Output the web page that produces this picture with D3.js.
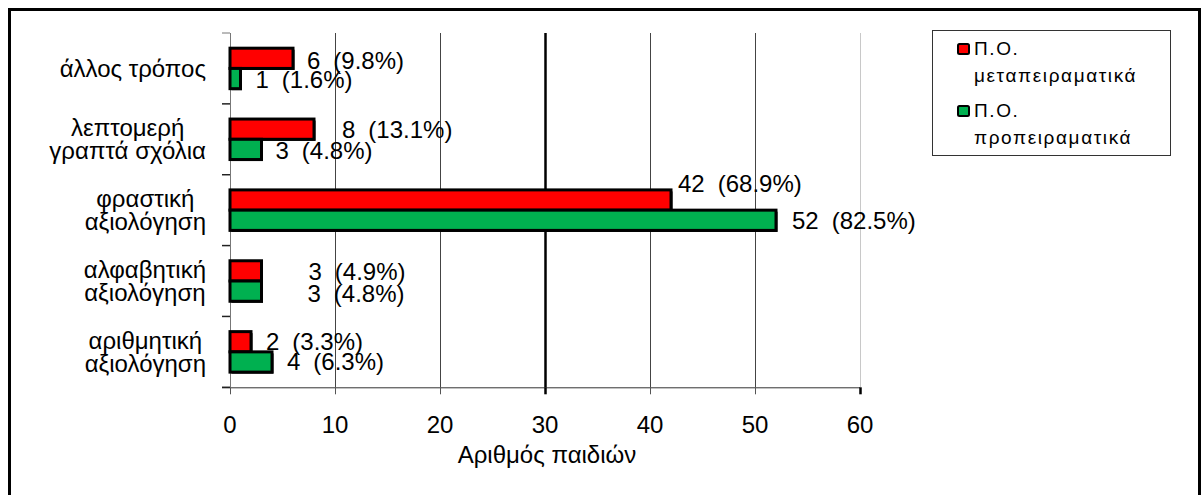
<!DOCTYPE html>
<html>
<head>
<meta charset="utf-8">
<script src="https://cdn.jsdelivr.net/npm/d3@7/dist/d3.min.js"></script>
<style>
  html, body { margin: 0; padding: 0; background: #fff; }
  svg { display: block; font-family: "Liberation Sans", Arial, sans-serif; }
</style>
</head>
<body>
<svg id="chart" width="1204" height="495"></svg>
<script>
// Evaluation methods (top to bottom), line breaks as drawn on the axis
const categories = [
  "άλλος τρόπος",
  "λεπτομερή\nγραπτά σχόλια",
  "φραστική\nαξιολόγηση",
  "αλφαβητική\nαξιολόγηση",
  "αριθμητική\nαξιολόγηση"
];
const seriesNames = ["Π.Ο.\nμεταπειραματικά", "Π.Ο.\nπροπειραματικά"];
const postValues = [6, 8, 42, 3, 2];
const preValues = [1, 3, 52, 3, 4];
const postPercents = ["9.8", "13.1", "68.9", "4.9", "3.3"];
const prePercents = ["1.6", "4.8", "82.5", "4.8", "6.3"];
const xTicks = [0, 10, 20, 30, 40, 50, 60];
const xTitle = "Αριθμός παιδιών";

const seriesColors = ["#ff0000", "#00b050"];
// per-label nudges [dx from bar end, dy from bar centre]
const labelNudges = [
  [[14, 2], [15, 1]],
  [[28, 0], [14, 1]],
  [[7, -16], [16, 0]],
  [[47, 1], [46, 2]],
  [[15, 0], [15, 0]]
];

const svg = d3.select("#chart");
const plot = { left: 230, right: 860, top: 33, bottom: 387.3 };
const fontSize = 24;

// outer frame (open at the bottom)
svg.append("path")
  .attr("d", `M9.5,495 V9.5 H1199.5 V495`)
  .attr("fill", "none").attr("stroke", "#000").attr("stroke-width", 3);

const x = d3.scaleLinear().domain([0, 60]).range([plot.left, plot.right]);
const y = d3.scaleBand().domain(d3.range(categories.length)).range([plot.top, plot.bottom]);
const inner = d3.scaleBand().domain([0, 1]).range([0, y.bandwidth()]).paddingOuter(0.75);

// vertical gridlines
svg.append("g").selectAll("line").data(xTicks.filter(d => d > 0)).join("line")
  .attr("x1", d => Math.round(x(d)) + 0.5).attr("x2", d => Math.round(x(d)) + 0.5)
  .attr("y1", plot.top).attr("y2", plot.bottom)
  .attr("stroke", d => d === 30 ? "#000" : d === 60 ? "#c8c8c8" : "#444")
  .attr("stroke-width", d => d === 30 ? 2.5 : 1);

// value axis
const xAxis = svg.append("g").attr("transform", `translate(0,${plot.bottom})`);
xAxis.append("line").attr("x1", plot.left - 8).attr("x2", plot.right)
  .attr("y1", 0.5).attr("y2", 0.5).attr("stroke", "#333");
xAxis.selectAll("line.tick").data(xTicks).join("line").attr("class", "tick")
  .attr("x1", d => Math.round(x(d)) + 0.5).attr("x2", d => Math.round(x(d)) + 0.5)
  .attr("y1", 0).attr("y2", 7)
  .attr("stroke", d => (d === 30 || d === 60) ? "#000" : "#555")
  .attr("stroke-width", d => (d === 30 || d === 60) ? 2.5 : 1);
xAxis.selectAll("text").data(xTicks).join("text")
  .attr("x", d => x(d)).attr("y", 46)
  .attr("text-anchor", "middle").attr("font-size", fontSize).attr("fill", "#000")
  .text(d => d);
svg.append("text")
  .attr("x", (plot.left + plot.right) / 2 + 2).attr("y", 463)
  .attr("text-anchor", "middle").attr("font-size", fontSize).attr("fill", "#000")
  .text(xTitle);

// category axis
svg.append("line").attr("x1", plot.left + 0.5).attr("x2", plot.left + 0.5)
  .attr("y1", plot.top).attr("y2", plot.bottom).attr("stroke", "#777");
const boundaries = d3.range(categories.length + 1).map(i => plot.top + i * y.step());
svg.append("g").selectAll("line").data(boundaries).join("line")
  .attr("x1", plot.left - 8).attr("x2", plot.left)
  .attr("y1", d => d).attr("y2", d => d)
  .attr("stroke", (d, i) => i === 0 ? "#777" : "#222")
  .attr("stroke-width", (d, i) => i === 0 ? 1 : 1.5);

const lineGap = 23.5;
categories.forEach((label, i) => {
  const lines = label.split("\n");
  const cy = y(i) + y.bandwidth() / 2;
  const t = svg.append("text").attr("font-size", fontSize).attr("fill", "#000")
    .attr("text-anchor", "middle");
  lines.forEach((ln, j) => {
    t.append("tspan").attr("y", cy + (j - (lines.length - 1) / 2) * lineGap).attr("dy", "0.35em").text(ln);
  });
  const tspans = t.selectAll("tspan").nodes();
  const w = d3.max(tspans, n => n.getComputedTextLength());
  t.selectAll("tspan").attr("x", 206 - w / 2);
});

// bars: a thin black drop shadow under each outlined bar
const seriesValues = [postValues, preValues];
const seriesPercents = [postPercents, prePercents];
const barLayer = svg.append("g");
seriesValues.forEach((vals, s) => {
  vals.forEach((v, i) => {
    barLayer.append("rect")
      .attr("x", x(0) + 1.5).attr("y", y(i) + inner(s) + 1.5)
      .attr("width", x(v) - x(0)).attr("height", inner.bandwidth()).attr("fill", "#000");
  });
});
seriesValues.forEach((vals, s) => {
  vals.forEach((v, i) => {
    barLayer.append("rect")
      .attr("x", x(0)).attr("y", y(i) + inner(s))
      .attr("width", x(v) - x(0)).attr("height", inner.bandwidth())
      .attr("fill", seriesColors[s]).attr("stroke", "#000").attr("stroke-width", 3);
  });
});

// value labels: count and share of the series total
seriesValues.forEach((vals, s) => {
  vals.forEach((v, i) => {
    const [dx, dy] = labelNudges[i][s];
    const cy = y(i) + inner(s) + inner.bandwidth() / 2;
    const t = svg.append("text")
      .attr("x", x(v) + dx).attr("y", cy + dy).attr("dy", "0.35em")
      .attr("font-size", fontSize).attr("fill", "#000");
    t.append("tspan").text(v);
    t.append("tspan").attr("dx", 13).text(`(${seriesPercents[s][i]}%)`);
  });
});

// legend
const legend = svg.append("g");
legend.append("rect").attr("x", 932.5).attr("y", 30.5).attr("width", 238).attr("height", 125)
  .attr("fill", "#fff").attr("stroke", "#333").attr("stroke-width", 1);
seriesNames.forEach((name, s) => {
  const top = 44 + s * 62;
  legend.append("rect").attr("x", 958).attr("y", top).attr("width", 11).attr("height", 10)
    .attr("rx", 1.5).attr("fill", seriesColors[s]).attr("stroke", "#000").attr("stroke-width", 2);
  const t = legend.append("text").attr("font-size", 19).attr("letter-spacing", 1.6).attr("fill", "#000");
  name.split("\n").forEach((ln, j) => {
    t.append("tspan").attr("x", 974).attr("y", top + 11 + j * 27).text(ln);
  });
});
</script>
</body>
</html>
